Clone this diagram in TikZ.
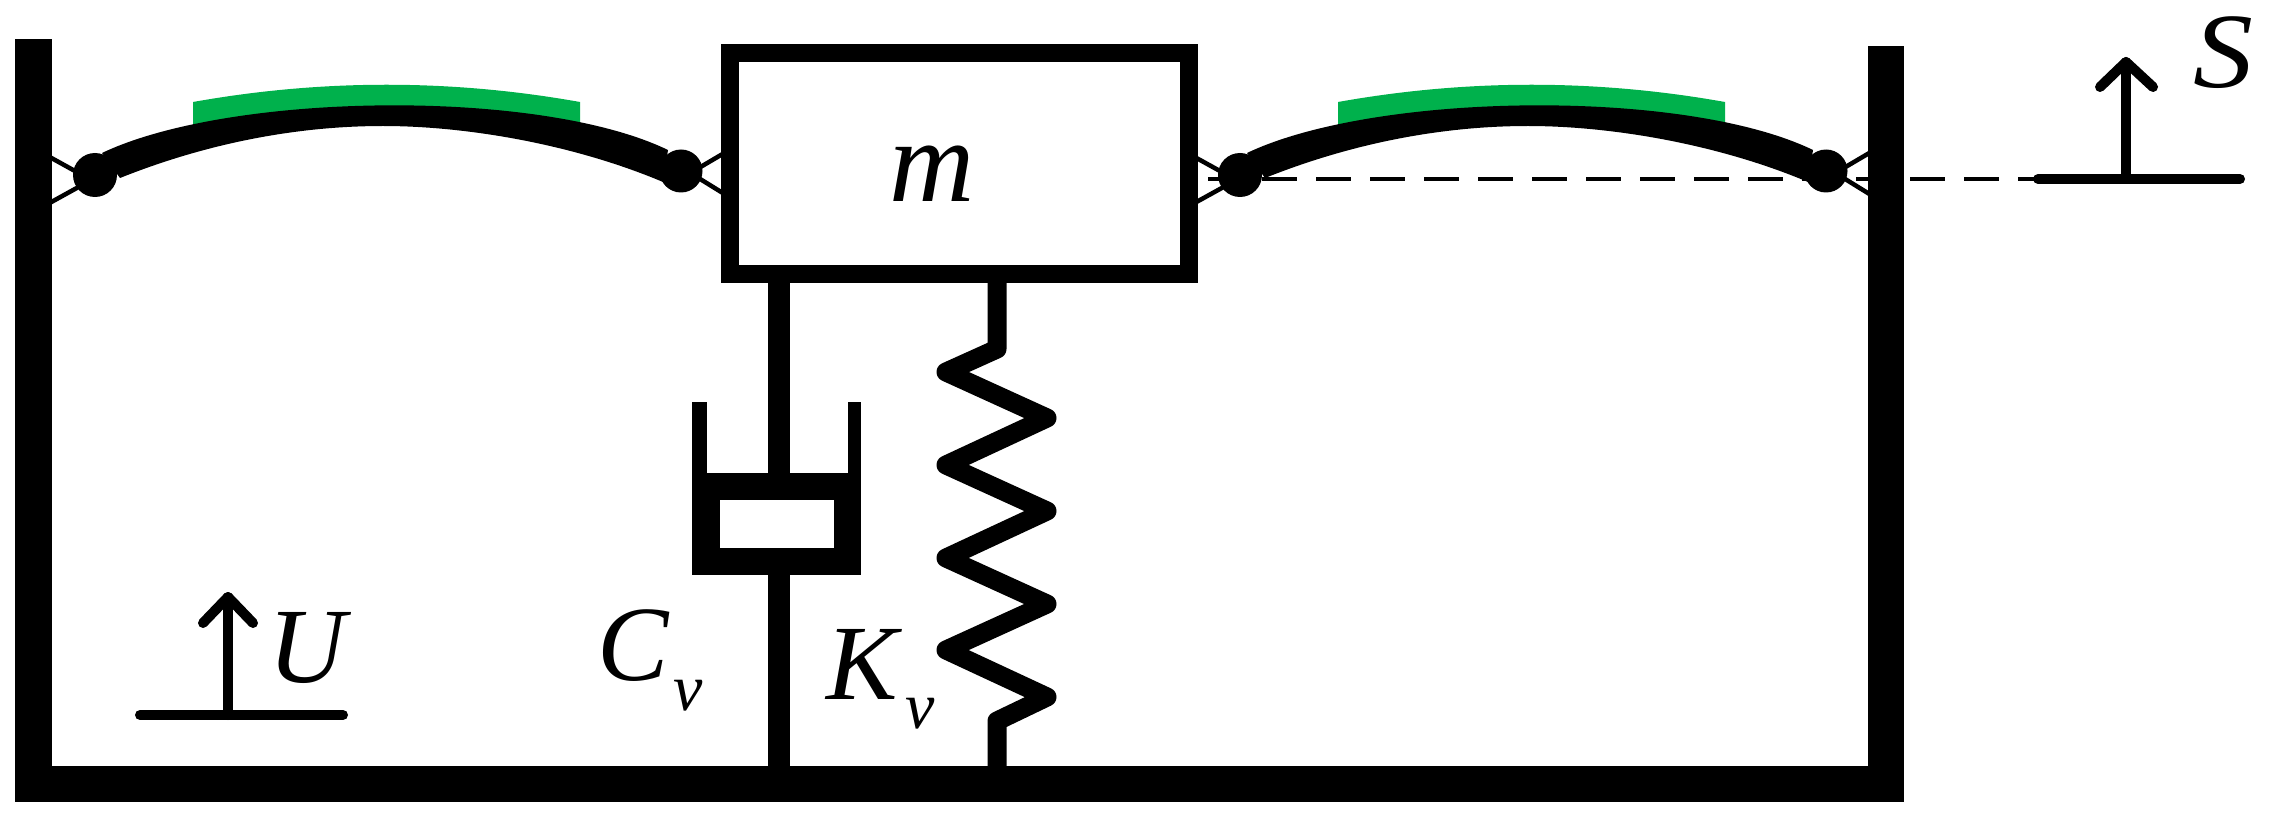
\documentclass[tikz,border=0pt]{standalone}
\usepackage{fontspec}
\setmainfont{Liberation Serif}
\definecolor{plategreen}{RGB}{0,177,76}
\tikzset{
  blk/.style={fill=black,draw=none},
  thinbar/.style={line width=4.5pt,draw=black},
  axis/.style={line width=10pt,draw=black,line cap=round,line join=round},
  sym/.style={anchor=base west,inner sep=0pt,outer sep=0pt,font=\fontsize{107}{107}\selectfont\itshape},
  subsym/.style={anchor=base west,inner sep=0pt,outer sep=0pt,font=\fontsize{66}{66}\selectfont\itshape},
  plate/.pic={
    \draw[thinbar] (46,155) -- (84,176);
    \draw[thinbar] (46,205) -- (84,184);
    \draw[thinbar] (692,172) -- (726,152);
    \draw[thinbar] (692,174) -- (726,195);
    \fill[fill=plategreen] (193,102) .. controls (322,79) and (451,79) .. (580,102)
       -- (580,125) .. controls (451,105) and (322,105) .. (193,125) -- cycle;
    \fill[blk] (102,153) .. controls (230,92) and (540,88) .. (668,150)
       -- (663,182) .. controls (573,144) and (466,126) .. (383,126)
       .. controls (300,126) and (210,142) .. (120,178) -- cycle;
    \fill[blk] (95,175) circle (22);
    \fill[blk] (681,171) circle (21.5);
  }
}
\begin{document}
\begin{tikzpicture}[x=1pt,y=-1pt]
\useasboundingbox (0,0) rectangle (2269,818);
\fill[white] (0,0) rectangle (2269,818);
% dashed reference line
\draw[line width=4.5pt,dash pattern=on 35pt off 19pt] (1208,179) -- (2040,179);
% plates
\pic at (0,0) {plate};
\pic at (1145,0) {plate};
% frame
\fill[blk] (15,39) rectangle (52,802);
\fill[blk] (15,766) rectangle (1904,802);
\fill[blk] (1868,46) rectangle (1904,802);
% mass
\draw[line width=18.5pt,fill=white] (730,53) rectangle (1189,274);
\node[sym,font=\fontsize{118}{118}\selectfont\itshape] (mlabel) at (889,202) {m};
% damper
\fill[blk] (768,283) rectangle (790,473);
\fill[blk] (768,575) rectangle (790,767);
\fill[blk] (692,402) rectangle (707,473);
\fill[blk] (848,402) rectangle (861,473);
\fill[blk] (692,473) rectangle (861,575);
\fill[white] (720,500) rectangle (834,548);
% spring
\draw[line width=19pt,line join=round,line cap=butt]
  (997,283) -- (997,349) -- (946,372) -- (1047,418) -- (946,465) -- (1047,511)
  -- (946,558) -- (1047,604) -- (946,650) -- (1047,697) -- (997,721) -- (997,767);
% S indicator
\draw[axis] (2038,179) -- (2240,179);
\draw[axis] (2126,179) -- (2126,62);
\draw[axis] (2100,87) -- (2126,62) -- (2153,87);
\node[sym,xscale=1.12] (slabel) at (2193,88) {S};
% U indicator
\draw[axis] (140,715) -- (343,715);
\draw[axis] (228,715) -- (228,597);
\draw[axis] (203,623) -- (228,597) -- (253,623);
\node[sym] (ulabel) at (268,682) {U};
% labels
\node[sym] (clabel) at (597,680) {C};
\node[subsym] (cv) at (673,710) {v};
\node[sym] (klabel) at (826,699) {K};
\node[subsym] (kv) at (905,728) {v};
\end{tikzpicture}
\end{document}
